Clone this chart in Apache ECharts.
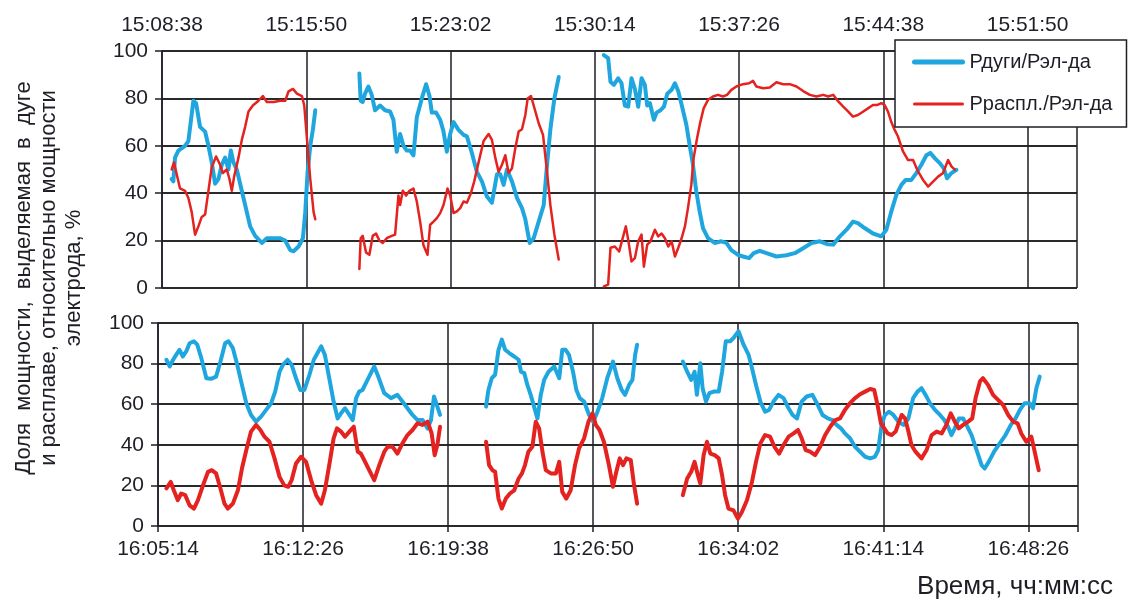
<!DOCTYPE html>
<html>
<head>
<meta charset="utf-8">
<script src="https://cdn.jsdelivr.net/npm/echarts@6/dist/echarts.min.js"></script>
<style>
  html, body { margin: 0; padding: 0; background: #fff; }
  #chart { width: 1131px; height: 601px; }
</style>
</head>
<body>
<div id="chart"></div>
<script>
// time axis: seconds from the first tick of each panel
const tickStep = 432;
const topTicks = ['15:08:38', '15:15:50', '15:23:02', '15:30:14', '15:37:26', '15:44:38', '15:51:50'];
const bottomTicks = ['16:05:14', '16:12:26', '16:19:38', '16:26:50', '16:34:02', '16:41:14', '16:48:26'];
const valueTicks = [0, 20, 40, 60, 80, 100];

const arcName = 'Рдуги/Рэл-да';
const meltName = 'Рраспл./Рэл-да';

// upper panel, [seconds, %]
const topArc1 = [[29,46],[34,45],[39,55],[49,58],[69,60],[79,62],[94,79],[102,78],[114,68],[129,66],[139,60],[149,53],[159,44],[169,46],[179,52],[189,55],[199,50],[206,58],[214,53],[224,50],[234,44],[249,35],[264,26],[279,22],[299,19],[314,21],[334,21],[354,21],[369,20],[384,16],[394,15.5],[409,17.5],[422,21],[429,32],[436,49],[444,60],[452,67],[459,75]];
const topArc2 = [[591,90.5],[595,79],[601,78.5],[608,82],[618,85],[628,81.5],[638,75],[653,77],[668,75],[683,74.5],[693,71],[703,57.5],[713,65],[723,60],[733,58],[743,58],[753,56],[763,72],[778,80],[791,86],[801,81],[808,74],[821,74],[833,71],[843,66],[853,57.5],[863,65],[873,70],[888,66.7],[903,64.6],[913,64],[928,57],[943,49],[958,45],[973,38.6],[988,36],[1003,48],[1013,48],[1023,43.5],[1033,50],[1048,45],[1063,38],[1078,33.7],[1088,29],[1101,19],[1113,21],[1128,28],[1143,35],[1153,52],[1163,67],[1175,80],[1188,89]];
const topArc3 = [[1323,98.3],[1336,97],[1343,87],[1353,85.7],[1366,88.5],[1376,86.4],[1386,77],[1396,76.5],[1406,88.5],[1416,84],[1426,76.5],[1436,88.5],[1446,85.7],[1453,77],[1461,78],[1473,71],[1481,74],[1493,75],[1503,76.5],[1513,82],[1526,83.6],[1536,86.4],[1546,83],[1555,78],[1570,69],[1580,60.4],[1590,52],[1600,40.7],[1610,32.3],[1620,25.3],[1635,21],[1655,19],[1675,19.7],[1690,19],[1705,16],[1725,14],[1740,13.3],[1758,12.6],[1772,14.7],[1790,15.7],[1810,14.7],[1840,13.3],[1870,13.8],[1895,14.7],[1920,16.8],[1945,19],[1970,19.7],[1992,18.5],[2010,18.3],[2030,21.8],[2050,24.6],[2069,28],[2084,27.4],[2104,25.3],[2129,23],[2154,21.8],[2169,24.6],[2184,32.3],[2199,39.3],[2214,43.5],[2227,45.6],[2244,45.6],[2259,48.5],[2274,52],[2289,56],[2301,57],[2314,54.8],[2329,52.7],[2341,50.5],[2351,46.3],[2364,48.5],[2379,49.9]];

const topMelt1 = [[29,50],[36,53],[44,48],[54,42],[69,41],[79,38],[89,32],[99,22.5],[109,26],[119,30],[129,31],[139,41],[149,51],[162,55.5],[174,52],[182,48.5],[194,50],[202,46],[209,41],[216,47],[229,55],[239,62.5],[249,68],[259,74.5],[272,77],[289,79],[302,81],[314,78.5],[334,78.5],[354,79],[369,79],[379,83],[392,84],[404,82],[419,81],[426,77],[434,63],[444,46],[454,32],[459,29]];
const topMelt2 = [[591,8],[595,21],[601,22],[611,15],[621,14],[631,22],[641,23],[651,20],[661,19],[673,21],[688,22],[698,22.5],[708,39],[713,35],[721,41],[731,39],[741,41],[753,42],[763,36.5],[773,28],[783,18],[795,14],[803,26.7],[813,28],[823,29.5],[833,31.6],[843,35],[855,42],[863,39],[873,31.6],[883,32.3],[893,33.7],[903,36.5],[913,36],[925,40],[935,45],[948,53],[963,62],[978,65],[988,62.5],[998,55],[1008,49],[1018,52],[1028,56],[1038,48.5],[1048,50.5],[1058,59],[1068,66],[1078,67],[1088,73],[1095,80],[1105,81],[1118,74.5],[1128,69.5],[1141,64.6],[1153,49],[1163,35],[1175,22.5],[1188,12]];
const topMelt3 = [[1323,0.7],[1336,1.4],[1343,17],[1356,17.5],[1369,15.4],[1381,21.8],[1389,26],[1396,20.4],[1406,11.2],[1416,12.6],[1426,19.7],[1436,22.5],[1443,9],[1453,18.3],[1463,19.7],[1476,24.6],[1486,21.8],[1496,23],[1506,21],[1516,17.5],[1526,19.7],[1536,13.3],[1546,17],[1556,21],[1566,26],[1575,33.7],[1585,43.5],[1592,54.8],[1602,63],[1612,70],[1622,75.8],[1635,79.4],[1650,80.8],[1665,81.5],[1680,80.8],[1692,81.5],[1705,83.6],[1720,85],[1740,86],[1758,86.4],[1770,87.4],[1780,85],[1800,84.3],[1820,84.6],[1840,86.8],[1860,86],[1880,86],[1900,85],[1920,83.1],[1940,81.5],[1960,80.8],[1980,81.5],[1995,80.8],[2010,81.5],[2025,78.7],[2040,76.5],[2055,74.4],[2069,72.3],[2084,73],[2099,74.4],[2114,75.8],[2129,77.2],[2141,77.2],[2154,78],[2164,77.2],[2174,74.4],[2184,70],[2194,66.7],[2204,63.9],[2219,57.6],[2234,54],[2249,54],[2264,49.2],[2279,45.6],[2294,42.8],[2309,44.9],[2324,47],[2339,48.5],[2354,54],[2364,51.3],[2374,49.9]];

// lower panel
const botArc1 = [[25,81.9],[35,78.6],[45,81.9],[54,84.3],[64,86.8],[74,83.5],[84,86],[94,90],[107,91],[117,89.3],[129,82.7],[144,72.8],[158,72.5],[173,73.6],[186,81],[200,90],[210,91],[223,87.6],[236,79.4],[250,69.5],[263,60.5],[277,54.7],[292,51.4],[307,53.9],[322,57.2],[337,60.5],[349,66.2],[362,76],[372,79.4],[386,81.9],[398,79.4],[411,72.8],[424,67],[436,67],[451,74.5],[464,81.9],[486,88.5],[497,84.3],[510,72.8],[523,61.3],[535,53],[545,55.5],[557,58],[570,54.7],[580,52.2],[590,63],[599,66.2],[609,67],[624,72],[644,78.6],[656,73.6],[674,65.4],[694,63],[713,64.6],[728,61.3],[743,58],[758,54.7],[773,52.2],[788,52.2],[803,48],[813,52.2],[822,63.8],[832,58.8],[840,54.7]];
const botArc2 = [[977,58.8],[984,67],[994,72.8],[1004,74.5],[1014,86.8],[1024,91.8],[1034,86.8],[1046,85.2],[1061,83.5],[1074,81.9],[1081,76],[1091,75.3],[1100,69.5],[1110,64.6],[1120,58.8],[1130,53],[1140,64.6],[1150,72],[1163,76],[1180,78.6],[1195,72.8],[1204,86.8],[1214,86.8],[1224,84.3],[1236,76],[1246,67],[1256,63],[1269,61.3],[1284,54.7],[1296,51.4],[1309,56.3],[1323,63],[1338,72.8],[1355,81],[1368,72.8],[1381,67],[1391,64.6],[1403,69.5],[1413,72],[1421,84.3],[1427,89.3]];
const botArc3 = [[1563,81],[1576,76],[1588,72],[1598,76],[1605,64.6],[1615,80.2],[1622,67.9],[1632,61.3],[1642,65.4],[1655,66.2],[1670,66.2],[1680,76],[1691,91],[1704,91],[1714,92.6],[1729,95.9],[1744,89.3],[1759,84.3],[1769,77.8],[1781,69.5],[1794,61.3],[1808,56.3],[1820,57.2],[1833,61.3],[1848,64.6],[1863,63],[1878,58],[1890,54.7],[1903,53],[1917,61.3],[1932,63.8],[1949,64.6],[1965,59.6],[1979,54.7],[1995,53],[2009,52.2],[2021,49.8],[2034,48.1],[2046,45.6],[2061,43.2],[2076,39],[2091,36.6],[2106,34.1],[2121,33.3],[2135,34.1],[2145,37.4],[2155,49.8],[2165,54.7],[2177,56.3],[2190,54.7],[2205,51.4],[2220,49.8],[2235,53],[2249,63],[2262,66.2],[2274,67.9],[2286,64.6],[2299,60.5],[2314,57.2],[2329,54.7],[2342,52.2],[2353,48.9],[2363,44.8],[2373,48.1],[2385,53],[2398,53],[2408,49.8],[2423,44.8],[2438,37.4],[2453,30],[2462,28.3],[2474,31.6],[2490,36.6],[2507,40.7],[2524,44.8],[2540,49.8],[2554,53],[2567,57.2],[2581,60.5],[2596,60.5],[2606,58],[2616,67.9],[2626,73.6]];

const botMelt1 = [[25,18.5],[38,21.7],[47,17.6],[59,12.7],[69,16],[81,15.2],[94,10.2],[107,8.6],[119,12.7],[134,20],[149,26.7],[160,27.5],[173,25.9],[186,18.5],[198,11],[208,8.6],[223,11],[238,17.6],[250,28.3],[263,37.4],[277,46.5],[292,49.8],[305,47.3],[317,44],[332,41.5],[347,33.3],[362,24.2],[376,20],[388,19.3],[398,22.6],[411,30.8],[426,34.1],[441,31.6],[456,22.6],[471,15.2],[486,11],[497,17.6],[510,30],[523,43.2],[533,48.1],[545,46.5],[557,44],[570,46.5],[583,48.9],[595,36.6],[604,35.7],[614,32.5],[629,27.5],[644,22.6],[659,30],[674,36.6],[684,39],[699,39],[713,35.7],[728,40.7],[743,44.8],[758,47.3],[773,50.6],[788,49.8],[803,51.4],[815,45.6],[824,34.9],[832,39.9],[840,48.9]];
const botMelt2 = [[977,41.5],[986,30],[996,27.5],[1004,26.7],[1014,13.5],[1024,8.6],[1036,13.5],[1048,16],[1061,17.6],[1074,23.4],[1084,25.9],[1093,30],[1103,36.6],[1115,39],[1125,51.4],[1135,48.1],[1145,36.6],[1155,27.5],[1170,25.9],[1185,25.9],[1195,31.6],[1204,16.8],[1216,13.5],[1229,17.6],[1242,30],[1254,38.2],[1269,43.2],[1282,51.4],[1294,55.5],[1304,49.8],[1315,47.3],[1328,41.5],[1343,30],[1355,19.3],[1365,26.7],[1375,33.3],[1385,30],[1395,33.3],[1408,32.5],[1418,20],[1427,11]];
const botMelt3 = [[1563,15.2],[1576,23.4],[1588,26.7],[1598,31.6],[1608,25],[1615,20.9],[1625,34.9],[1635,41.5],[1645,35.7],[1658,34.9],[1670,33.3],[1680,25],[1689,15.2],[1699,8.6],[1714,7.7],[1727,3.6],[1739,6.9],[1754,12.7],[1769,21.7],[1781,31.6],[1794,40.7],[1808,44.8],[1823,44],[1836,39],[1850,35.7],[1863,39.9],[1878,44],[1893,45.6],[1906,47.3],[1917,43.2],[1929,37.4],[1942,36.6],[1957,34.9],[1972,39],[1987,44.8],[2002,48.9],[2017,52.2],[2031,53],[2046,57.2],[2061,60.5],[2076,63],[2091,64.9],[2106,66.2],[2121,67.5],[2133,67],[2143,59.6],[2153,50.6],[2163,48.1],[2173,45.6],[2185,44.8],[2197,46.5],[2207,51.4],[2215,54.7],[2225,53],[2235,46.5],[2244,39.9],[2256,36.6],[2274,33.3],[2289,37.4],[2304,44.8],[2319,46.5],[2334,45.6],[2348,49.8],[2361,55.5],[2373,51.4],[2385,48.1],[2398,49.8],[2413,51.4],[2425,53],[2435,63],[2448,71.2],[2457,72.8],[2472,69.5],[2487,64.6],[2502,62.1],[2517,59.6],[2532,54.7],[2547,51.4],[2560,50.6],[2571,45.6],[2586,41.5],[2601,44],[2611,36.6],[2623,27.5]];

// gaps between recordings -> break the line
function joinSegments(segs) {
  return segs.flatMap((s, i) => (i ? [[s[0][0] - 1, null]].concat(s) : s));
}

const BLUE = '#20a6df';
const RED = '#e4221f';
const INK = '#1e1e26';
const FONT = 'Liberation Sans, Arial, sans-serif';

function xAxisOpts(gridIndex, labels, pos) {
  return {
    type: 'value',
    gridIndex: gridIndex,
    position: pos,
    min: 0,
    max: 2740,
    interval: tickStep,
    axisLine: {show: false},
    axisTick: {show: pos === 'bottom', length: 6, lineStyle: {color: INK, width: 1.5}},
    axisLabel: {
      fontSize: 21,
      fontFamily: FONT,
      color: INK,
      margin: pos === 'bottom' ? 13 : 15,
      formatter: v => (v % tickStep === 0 ? labels[v / tickStep] || '' : ''),
    },
    splitLine: {show: true, lineStyle: {color: INK, width: 1.5}},
  };
}

function yAxisOpts(gridIndex) {
  return {
    type: 'value',
    gridIndex: gridIndex,
    min: valueTicks[0],
    max: valueTicks[valueTicks.length - 1],
    interval: valueTicks[1] - valueTicks[0],
    axisLine: {show: true, lineStyle: {color: INK, width: 1.5}},
    axisTick: {show: true, length: 7, lineStyle: {color: INK, width: 1.5}},
    axisLabel: {fontSize: 21, fontFamily: FONT, color: INK, margin: 14},
    splitLine: {show: true, lineStyle: {color: '#2a2a2a', width: 1.8}},
  };
}

function lineSeries(name, idx, data, color, width) {
  return {
    type: 'line',
    name: name,
    xAxisIndex: idx,
    yAxisIndex: idx,
    data: data,
    symbol: 'none',
    connectNulls: false,
    lineStyle: {color: color, width: width, join: 'round', cap: 'round'},
    itemStyle: {color: color},
    z: 3,
  };
}

const chart = echarts.init(document.getElementById('chart'));
chart.setOption({
  backgroundColor: '#fff',
  animation: false,
  textStyle: {fontFamily: FONT},
  grid: [
    {left: 162, right: 54, top: 51, height: 237},
    {left: 158, right: 53, top: 323, height: 203},
  ],
  xAxis: [xAxisOpts(0, topTicks, 'top'), xAxisOpts(1, bottomTicks, 'bottom')],
  yAxis: [yAxisOpts(0), yAxisOpts(1)],
  legend: {
    data: [
      {name: arcName, lineStyle: {width: 5}},
      {name: meltName, lineStyle: {width: 3}},
    ],
    orient: 'vertical',
    left: 895,
    top: 40,
    padding: [12, 14, 13, 17],
    itemWidth: 48,
    itemHeight: 20,
    itemGap: 22,
    itemStyle: {opacity: 0},
    backgroundColor: '#fff',
    borderColor: INK,
    borderWidth: 1.5,
    borderRadius: 0,
    textStyle: {fontSize: 20, fontFamily: FONT, color: INK, padding: [0, 0, 0, 2]},
    z: 10,
  },
  graphic: [
    {
      type: 'text',
      x: 49,
      y: 278,
      rotation: Math.PI / 2,
      style: {
        text: 'Доля  мощности,  выделяемая  в  дуге\nи расплаве, относительно мощности\nэлектрода, %',
        align: 'center',
        verticalAlign: 'middle',
        textAlign: 'center',
        textVerticalAlign: 'middle',
        fontSize: 22,
        lineHeight: 25,
        fontFamily: FONT,
        fill: INK,
      },
    },
    {
      type: 'text',
      x: 1113,
      y: 587,
      style: {
        text: 'Время, чч:мм:сс',
        align: 'right',
        verticalAlign: 'middle',
        textAlign: 'right',
        textVerticalAlign: 'middle',
        fontSize: 26,
        fontFamily: FONT,
        fill: INK,
      },
    },
  ],
  series: [
    lineSeries(arcName, 0, joinSegments([topArc1, topArc2, topArc3]), BLUE, 4),
    lineSeries(meltName, 0, joinSegments([topMelt1, topMelt2, topMelt3]), RED, 2.5),
    lineSeries(arcName, 1, joinSegments([botArc1, botArc2, botArc3]), BLUE, 4),
    lineSeries(meltName, 1, joinSegments([botMelt1, botMelt2, botMelt3]), RED, 4),
  ],
});
</script>
</body>
</html>
